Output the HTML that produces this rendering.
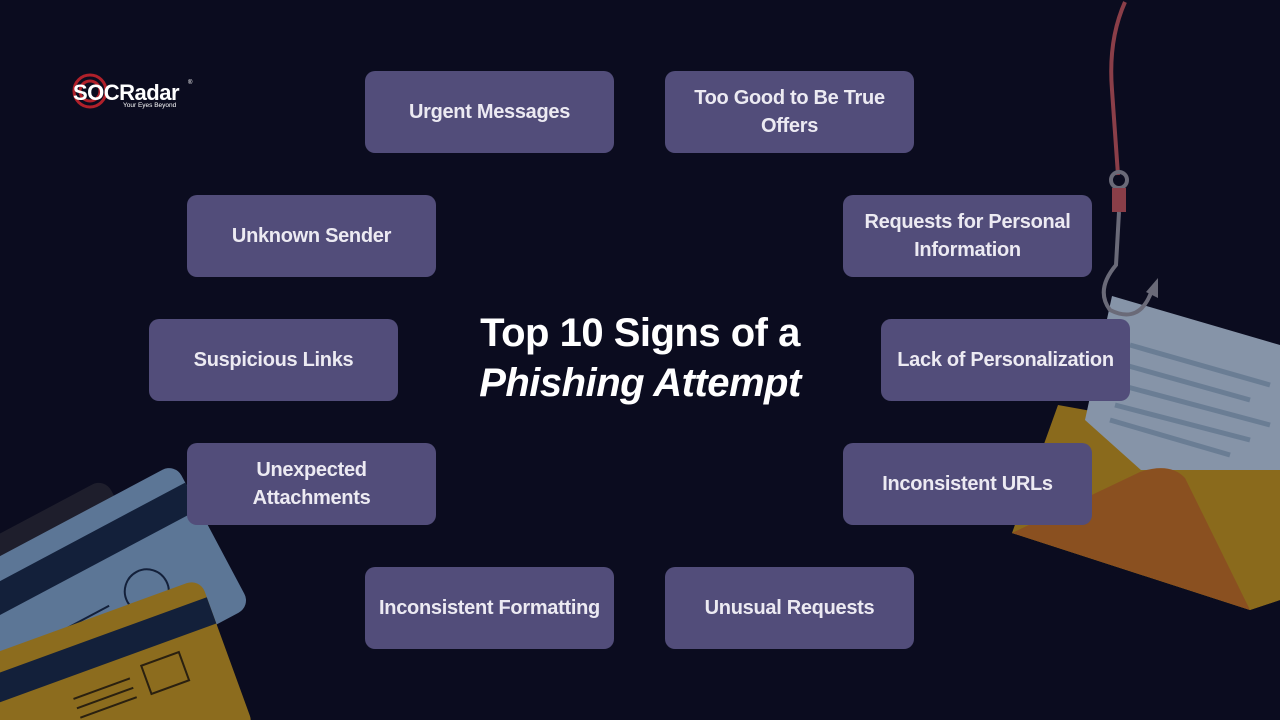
<!DOCTYPE html>
<html><head><meta charset="utf-8"><style>
html,body{margin:0;width:1280px;height:720px;overflow:hidden}
body{background:#0b0c1f;position:relative;font-family:"Liberation Sans",sans-serif}
.b{position:absolute;width:249px;height:82px;background:#524d7a;border-radius:10px;color:#eceaf2;font-weight:bold;font-size:20px;line-height:28px;display:flex;align-items:center;justify-content:center;text-align:center;letter-spacing:-0.3px}
svg{position:absolute;left:0;top:0}
.t{position:absolute;left:0;width:1280px;text-align:center;color:#fff;font-weight:bold;font-size:40px;letter-spacing:-0.5px}
</style></head><body>
<svg width="1280" height="720">
 <!-- cards -->
 <g transform="translate(-125,600) rotate(-28)"><rect x="0" y="0" width="260" height="170" rx="14" fill="#1e1e2c"/></g>
 <g transform="translate(-90,604) rotate(-28)"><rect x="0" y="0" width="300" height="162" rx="14" fill="#5c7696"/><rect x="0" y="22" width="300" height="30" fill="#13203a"/>
  <circle cx="215" cy="100" r="22" fill="none" stroke="#13203a" stroke-width="2"/>
  <line x1="110" y1="95" x2="175" y2="95" stroke="#13203a" stroke-width="2"/><line x1="110" y1="105" x2="175" y2="105" stroke="#13203a" stroke-width="2"/></g>
 <g transform="translate(-82,681) rotate(-20)"><rect x="0" y="0" width="300" height="160" rx="14" fill="#8c6c1e"/><rect x="0" y="20" width="300" height="28" fill="#13203a"/>
  <rect x="215" y="62" width="40" height="30" fill="none" stroke="#2a2010" stroke-width="2"/>
  <line x1="140" y1="70" x2="200" y2="70" stroke="#2a2010" stroke-width="2"/><line x1="140" y1="80" x2="200" y2="80" stroke="#2a2010" stroke-width="2"/><line x1="140" y1="90" x2="200" y2="90" stroke="#2a2010" stroke-width="2"/></g>
 <!-- envelope -->
 <polygon points="1012,533 1058,405 1280,445 1280,600 1250,610" fill="#8a6a1c"/>
 <polygon points="1112,296 1280,345 1280,470 1180,505 1085,420" fill="#8694a8"/>
 <g stroke="#6a7d94" stroke-width="5"><line x1="1130" y1="345" x2="1270" y2="385"/><line x1="1125" y1="365" x2="1250" y2="400"/><line x1="1120" y1="385" x2="1270" y2="425"/><line x1="1115" y1="405" x2="1250" y2="440"/><line x1="1110" y1="420" x2="1230" y2="455"/></g>
 <polygon points="1012,533 1140,470 1280,470 1280,600 1250,610" fill="#8a6a1c"/>
 <path d="M1012,533 L1140,472 Q1170,462 1185,478 L1250,610 Z" fill="#8a5020"/>
 <!-- hook -->
 <path d="M1125,2 Q1108,40 1112,90 L1118,175" fill="none" stroke="#8a3e48" stroke-width="4"/>
 <circle cx="1119" cy="180" r="8" fill="none" stroke="#6a6a78" stroke-width="4"/>
 <rect x="1112" y="188" width="14" height="24" fill="#8a3e48"/>
 <path d="M1119,212 L1116,265 Q1095,290 1110,310 Q1140,325 1152,290" fill="none" stroke="#6a6a78" stroke-width="4"/>
 <polygon points="1146,292 1158,278 1158,298" fill="#6a6a78"/>
 <!-- logo -->
 <circle cx="90" cy="91" r="16" fill="none" stroke="#b0202a" stroke-width="3"/>
 <circle cx="90" cy="91" r="10" fill="none" stroke="#b0202a" stroke-width="3"/>
 <text x="73" y="100" fill="#fff" font-family="Liberation Sans" font-weight="bold" font-size="22" letter-spacing="-0.5">SOCRadar</text>
 <text x="188" y="84" fill="#fff" font-size="6" font-family="Liberation Sans">®</text>
 <text x="123" y="107" fill="#fff" font-size="6.5" font-family="Liberation Sans">Your Eyes Beyond</text>
</svg>
<div class="t" style="top:311px">Top 10 Signs of a</div>
<div class="t" style="top:361px;font-style:italic">Phishing Attempt</div>
<div class="b" style="left:365px;top:71px">Urgent Messages</div>
<div class="b" style="left:665px;top:71px">Too Good to Be True<br>Offers</div>
<div class="b" style="left:187px;top:195px">Unknown Sender</div>
<div class="b" style="left:843px;top:195px">Requests for Personal<br>Information</div>
<div class="b" style="left:149px;top:319px">Suspicious Links</div>
<div class="b" style="left:881px;top:319px">Lack of Personalization</div>
<div class="b" style="left:187px;top:443px">Unexpected<br>Attachments</div>
<div class="b" style="left:843px;top:443px">Inconsistent URLs</div>
<div class="b" style="left:365px;top:567px">Inconsistent Formatting</div>
<div class="b" style="left:665px;top:567px">Unusual Requests</div>
</body></html>
